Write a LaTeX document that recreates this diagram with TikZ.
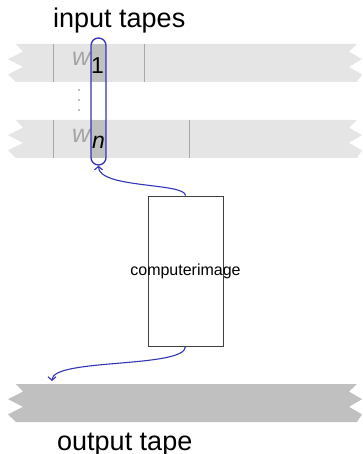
\documentclass[tikz,border=0pt]{standalone}
\usepackage{fontspec}
\setmainfont{Liberation Sans}
\usetikzlibrary{arrows.meta}

\definecolor{tapelight}{HTML}{E5E5E5}
\definecolor{tapedark}{HTML}{C0C0C0}
\definecolor{celline}{HTML}{A8A8A8}
\definecolor{symgray}{HTML}{A4A4A4}
\definecolor{headblue}{HTML}{3434B4}
\definecolor{boxline}{HTML}{404040}

\tikzset{
  % a tape strip with zig-zag torn ends, 38 units high
  pics/tape/.style={code={
    \fill[#1] (16,0) -- (23,7.6) -- (8,15.2) -- (23,22.8) -- (8,30.4) -- (16,38)
      -- (357,38) -- (362,30.4) -- (349,22.8) -- (362,15.2) -- (349,7.6) -- (357,0) -- cycle;
  }},
  cellsep/.style={draw=celline, line width=0.9pt},
  bigtext/.style={font=\fontsize{27}{30}\selectfont, inner sep=0pt},
  symtext/.style={font=\fontsize{25}{28}\selectfont\itshape, inner sep=0pt},
  subtext/.style={font=\fontsize{23}{26}\selectfont, inner sep=0pt},
  headbox/.style={draw=headblue, line width=1.3pt, rounded corners=7.5pt,
    minimum width=15pt, minimum height=127pt, inner sep=0pt},
  machine/.style={draw=boxline, line width=0.9pt, minimum width=75pt,
    minimum height=150pt, inner sep=0pt},
  machinetext/.style={inner sep=0pt, font=\fontsize{16}{18}\selectfont},
  conn/.style={draw=headblue, line width=1.1pt,
    -{Straight Barb[length=3.5pt, width=8pt, line width=1.1pt]}},
}

\begin{document}
\begin{tikzpicture}[x=1pt, y=-1pt]
\useasboundingbox (0,0) rectangle (362,454);

% labels
\node[bigtext, anchor=base west] (inlabel) at (53,28) {input tapes};
\node[bigtext, anchor=base west] (outlabel) at (57,450) {output tape};

% input tapes
\pic at (0,44) {tape=tapelight};
\pic at (0,120) {tape=tapelight};
\draw[cellsep] (53,44) -- (53,82);
\draw[cellsep] (144,44) -- (144,82);
\draw[cellsep] (53,120) -- (53,158);
\draw[cellsep] (189,120) -- (189,158);

% tape contents under the heads
\node[symtext, text=symgray, anchor=base west] (w1) at (72,66) {w};
\node[symtext, text=symgray, anchor=base west] (wn) at (72,143) {w};
\fill[tapedark] (91,44) rectangle (106,82);
\fill[tapedark] (91,120) rectangle (106,158);
\node[subtext, anchor=base west] (sub1) at (91,74) {1};
\node[subtext, anchor=base west, font=\fontsize{23}{26}\selectfont\itshape] (subn) at (92,149) {n};

% vertical dots between the tapes
\foreach \yy in {90,100,110} \fill[tapedark] (77.8,\yy-1.2) rectangle (80.2,\yy+1.2);

% read heads
\node[headbox] (head) at (98.5,101.5) {};

% output tape
\pic at (0,384) {tape=tapedark};
\coordinate (outhead) at (52,381);

% machine
\node[machine] (comp) at (185.5,271) {};
\node[machinetext] (comptext) at (comp.center) {computerimage};

% connectors
\draw[conn] (comp.north) .. controls +(0,-13) and +(0,23) .. (head.south);
\draw[conn] (comp.south) .. controls +(0,22) and +(0,-23) .. (outhead);
\end{tikzpicture}
\end{document}
